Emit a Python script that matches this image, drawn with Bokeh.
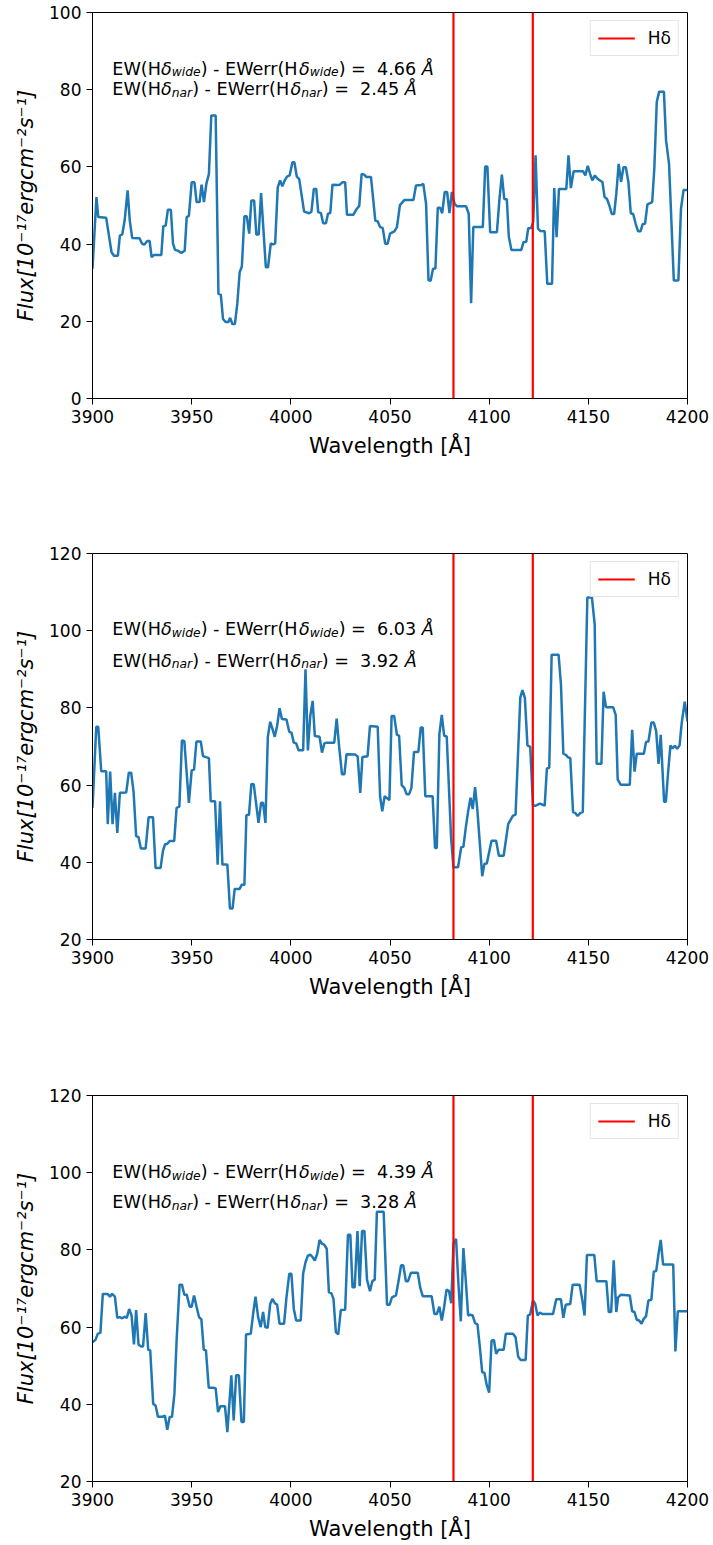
from bokeh.plotting import figure
from bokeh.models import Range1d, FixedTicker, ColumnDataSource, Legend, LegendItem
from bokeh.layouts import column
from bokeh.embed import file_html
from bokeh.resources import INLINE
from bokeh.core.properties import value

# ---------------- data ----------------
wave1 = [3900.0, 3902.0, 3902.9, 3906.9, 3909.6, 3910.8, 3912.8, 3913.8, 3915.0, 3916.2, 3917.7, 3918.8,
         3920.0, 3923.7, 3925.0, 3926.2, 3927.6, 3928.8, 3929.8, 3931.0, 3934.7, 3935.7, 3936.9, 3938.0,
         3939.5, 3940.6, 3941.6, 3943.0, 3944.8, 3946.5, 3947.5, 3948.6, 3950.0, 3951.4, 3952.5, 3954.0,
         3955.0, 3956.2, 3957.4, 3958.7, 3959.9, 3962.1, 3963.5, 3964.7, 3965.8, 3967.2, 3968.5, 3969.4,
         3970.5, 3971.8, 3973.0, 3974.2, 3975.3, 3976.6, 3977.8, 3979.0, 3980.1, 3981.5, 3982.6, 3983.8,
         3985.0, 3987.4, 3988.5, 3989.9, 3991.0, 3992.1, 3993.4, 3994.6, 3995.7, 3996.9, 3998.1, 3999.4,
         4000.8, 4001.8, 4003.0, 4004.2, 4006.7, 4009.2, 4010.4, 4011.6, 4012.8, 4013.8, 4015.2, 4016.3,
         4017.7, 4018.7, 4019.9, 4021.0, 4023.5, 4024.7, 4026.0, 4027.4, 4028.3, 4031.5, 4033.2, 4034.5,
         4035.7, 4037.0, 4038.0, 4040.4, 4042.6, 4043.8, 4045.0, 4046.3, 4047.6, 4048.8, 4050.0, 4052.2,
         4053.5, 4055.0, 4057.2, 4061.8, 4063.1, 4065.7, 4066.8, 4068.2, 4069.4, 4070.5, 4071.7, 4072.9,
         4074.1, 4075.3, 4076.3, 4077.6, 4078.8, 4080.0, 4081.2, 4082.5, 4083.7, 4088.4, 4089.7, 4090.9,
         4092.0, 4096.8, 4098.0, 4099.1, 4100.5, 4103.9, 4105.2, 4106.4, 4107.6, 4108.9, 4109.9, 4111.2,
         4116.2, 4117.3, 4118.7, 4119.7, 4121.2, 4122.2, 4123.4, 4124.6, 4125.8, 4128.0, 4129.3, 4131.7,
         4132.8, 4134.0, 4135.2, 4138.9, 4140.0, 4141.2, 4142.6, 4147.3, 4148.5, 4149.7, 4150.9, 4152.0,
         4153.3, 4154.5, 4155.8, 4157.1, 4158.2, 4159.4, 4160.6, 4161.8, 4163.0, 4164.1, 4165.3, 4166.5,
         4167.7, 4168.9, 4170.2, 4171.4, 4172.6, 4173.9, 4175.1, 4176.3, 4177.4, 4178.6, 4179.8, 4182.2,
         4183.3, 4184.5, 4185.7, 4188.1, 4189.2, 4190.7, 4193.1, 4195.4, 4196.7, 4198.0, 4200.0]
flux1 = [33.6, 52.2, 47.0, 46.8, 37.9, 37.0, 37.0, 42.2, 42.5, 46.1, 53.9, 46.1,
         41.6, 41.5, 40.1, 39.9, 40.8, 40.8, 36.6, 37.2, 37.2, 44.6, 44.8, 48.9,
         48.9, 40.1, 38.5, 38.3, 37.7, 38.3, 47.0, 47.3, 56.0, 56.0, 50.9, 50.9,
         55.4, 50.9, 55.6, 58.2, 73.3, 73.3, 27.1, 26.9, 20.6, 19.8, 19.8, 20.9,
         19.3, 19.3, 24.5, 32.7, 34.2, 47.2, 47.2, 42.7, 51.3, 51.3, 42.5, 42.5,
         53.2, 34.0, 34.0, 40.2, 39.9, 40.2, 54.7, 56.5, 55.0, 56.5, 57.5, 57.8,
         61.2, 61.2, 57.5, 56.9, 48.4, 48.0, 48.4, 54.3, 54.3, 48.3, 48.0, 45.4,
         45.4, 47.8, 48.1, 55.4, 55.3, 55.4, 56.0, 56.0, 47.6, 47.6, 49.1, 49.9,
         58.2, 58.0, 57.4, 57.4, 46.1, 45.9, 44.4, 44.2, 40.1, 40.1, 42.7, 43.3,
         44.4, 50.1, 51.4, 51.4, 55.2, 55.3, 55.6, 50.4, 30.6, 30.5, 33.6, 33.7,
         49.4, 49.4, 48.0, 53.5, 53.5, 48.0, 53.5, 50.5, 49.8, 49.8, 47.8, 24.7,
         44.4, 44.4, 60.1, 60.1, 43.1, 43.1, 51.7, 58.0, 51.7, 51.6, 42.0, 38.5,
         38.5, 40.5, 40.6, 44.1, 44.2, 45.7, 63.0, 44.0, 43.4, 43.3, 29.7, 29.7,
         54.5, 41.8, 54.3, 54.3, 63.0, 54.5, 58.9, 58.9, 57.8, 60.3, 58.2, 56.5,
         57.8, 57.0, 56.5, 56.1, 52.2, 51.7, 50.0, 47.8, 47.8, 53.0, 60.8, 56.1,
         59.9, 59.9, 56.1, 48.0, 47.8, 45.2, 43.3, 43.3, 45.2, 45.3, 50.3, 50.9,
         59.9, 76.8, 79.5, 79.5, 66.8, 60.8, 30.6, 30.6, 49.1, 54.0, 54.0]

wave2 = [3900.0, 3901.9, 3902.9, 3904.4, 3906.9, 3907.7, 3908.9, 3910.1, 3911.3, 3912.5, 3913.8, 3917.0,
         3918.3, 3919.5, 3920.7, 3922.0, 3923.2, 3924.4, 3926.8, 3928.3, 3930.5, 3931.8, 3934.3, 3935.5,
         3936.5, 3937.7, 3938.9, 3941.2, 3942.4, 3943.8, 3945.1, 3946.3, 3948.6, 3950.0, 3951.2, 3952.4,
         3954.6, 3955.7, 3958.7, 3959.6, 3961.8, 3963.1, 3964.3, 3965.5, 3968.0, 3969.3, 3970.6, 3971.7,
         3974.2, 3975.3, 3976.6, 3977.6, 3978.9, 3980.1, 3981.3, 3983.7, 3985.0, 3986.0, 3987.2, 3988.4,
         3989.6, 3990.7, 3991.9, 3993.1, 3994.3, 3995.5, 3997.8, 3999.2, 4000.3, 4001.5, 4002.7, 4003.9,
         4006.2, 4007.4, 4008.6, 4009.8, 4011.0, 4012.1, 4014.5, 4015.7, 4016.9, 4018.1, 4021.9, 4023.1,
         4024.4, 4025.8, 4027.0, 4028.1, 4032.5, 4033.7, 4035.0, 4036.1, 4038.7, 4039.9, 4043.8, 4045.0,
         4046.1, 4047.3, 4049.7, 4050.8, 4052.1, 4053.5, 4054.6, 4055.9, 4057.2, 4058.4, 4059.6, 4060.8,
         4062.1, 4064.3, 4065.5, 4066.5, 4067.8, 4071.5, 4072.7, 4073.6, 4074.9, 4076.1, 4077.3, 4078.6,
         4080.8, 4082.0, 4084.3, 4085.9, 4087.0, 4088.2, 4089.4, 4090.6, 4091.7, 4092.9, 4094.1, 4096.5,
         4097.6, 4098.8, 4101.2, 4103.5, 4104.9, 4107.3, 4109.6, 4112.0, 4113.3, 4115.7, 4116.8, 4118.0,
         4119.3, 4120.7, 4122.1, 4123.2, 4125.6, 4128.0, 4129.1, 4130.3, 4131.5, 4135.0, 4136.2, 4137.4,
         4138.6, 4139.7, 4140.9, 4142.3, 4143.4, 4144.6, 4146.0, 4147.2, 4149.5, 4151.8, 4153.2, 4154.2,
         4156.6, 4157.7, 4158.9, 4162.5, 4163.8, 4164.8, 4166.3, 4170.9, 4172.1, 4173.3, 4174.4, 4178.0,
         4179.1, 4180.3, 4181.8, 4183.0, 4184.2, 4185.4, 4186.5, 4188.2, 4189.1, 4190.2, 4191.4, 4192.4,
         4193.6, 4194.8, 4196.0, 4197.1, 4198.6, 4200.0]
flux2 = [54.1, 75.1, 75.1, 63.6, 63.6, 49.9, 63.5, 49.9, 58.0, 47.6, 58.0, 58.1,
         63.2, 63.2, 58.3, 46.8, 46.5, 43.6, 43.6, 51.7, 51.7, 38.5, 38.5, 42.9,
         44.6, 44.8, 45.5, 45.5, 54.1, 54.4, 71.6, 71.4, 55.4, 63.8, 64.0, 71.3,
         71.3, 67.5, 67.0, 55.8, 55.8, 39.4, 55.8, 39.4, 39.4, 28.0, 28.0, 33.1,
         33.1, 34.2, 34.2, 52.2, 52.3, 60.3, 60.2, 50.2, 55.4, 55.4, 50.2, 72.5,
         76.4, 74.6, 72.5, 75.4, 79.9, 77.1, 77.0, 73.8, 73.6, 71.0, 70.8, 69.0,
         69.0, 90.0, 69.0, 77.9, 81.8, 72.7, 72.5, 68.4, 70.8, 71.0, 71.0, 77.2,
         69.7, 62.8, 62.8, 68.0, 67.9, 67.4, 58.0, 67.3, 67.5, 75.3, 75.1, 57.1,
         53.2, 57.1, 56.1, 77.9, 77.9, 73.0, 72.8, 60.0, 59.3, 57.6, 57.6, 59.3,
         68.6, 68.6, 74.9, 74.9, 57.1, 57.1, 43.7, 43.7, 73.2, 78.2, 72.8, 72.6,
         46.3, 38.7, 38.7, 43.9, 44.0, 48.9, 53.2, 56.7, 53.8, 59.5, 53.2, 36.4,
         39.6, 39.7, 45.6, 45.6, 41.7, 41.7, 49.9, 52.1, 52.3, 82.7, 84.6, 82.6,
         70.3, 69.9, 54.8, 54.6, 55.2, 54.7, 64.3, 64.5, 93.8, 93.8, 86.0, 68.1,
         67.9, 67.2, 67.0, 53.0, 52.8, 52.0, 52.8, 53.0, 108.6, 108.6, 101.7, 65.5,
         65.5, 84.2, 80.2, 80.2, 78.2, 61.5, 60.1, 60.1, 74.3, 63.5, 68.1, 68.1,
         71.2, 71.3, 76.2, 76.2, 74.0, 65.5, 73.0, 55.7, 55.7, 63.2, 70.3, 69.5,
         70.2, 69.4, 70.3, 76.2, 81.6, 76.5]

wave3 = [3900.0, 3901.5, 3902.7, 3904.0, 3905.2, 3907.6, 3908.8, 3909.9, 3911.3, 3912.5, 3913.6, 3915.0,
         3916.2, 3917.3, 3918.5, 3919.7, 3920.9, 3922.0, 3923.2, 3924.4, 3925.5, 3926.8, 3928.1, 3929.1,
         3930.6, 3931.8, 3933.0, 3935.4, 3936.5, 3937.7, 3938.9, 3940.1, 3941.3, 3942.4, 3943.9, 3945.1,
         3946.3, 3947.5, 3949.0, 3950.0, 3951.2, 3952.5, 3953.7, 3954.9, 3956.1, 3957.2, 3958.6, 3961.0,
         3962.1, 3963.3, 3964.5, 3966.8, 3968.0, 3970.0, 3971.2, 3972.4, 3973.8, 3975.1, 3976.3, 3977.4,
         3979.8, 3981.1, 3982.2, 3983.5, 3984.8, 3986.0, 3987.1, 3988.3, 3989.6, 3990.7, 3991.9, 3993.1,
         3994.3, 3996.6, 3997.8, 3999.2, 4000.3, 4001.5, 4002.7, 4005.0, 4006.2, 4007.4, 4008.6, 4009.8,
         4011.0, 4012.1, 4013.3, 4014.5, 4015.7, 4016.9, 4018.1, 4019.2, 4020.4, 4021.5, 4022.7, 4023.9,
         4025.2, 4027.4, 4028.8, 4030.0, 4031.1, 4032.2, 4033.6, 4034.7, 4035.9, 4037.1, 4038.4, 4039.9,
         4041.1, 4042.3, 4043.4, 4046.8, 4048.5, 4049.8, 4051.0, 4053.0, 4054.2, 4055.6, 4056.7, 4058.0,
         4059.1, 4060.6, 4064.0, 4065.2, 4066.5, 4071.0, 4072.4, 4073.6, 4074.9, 4076.1, 4077.3, 4078.5,
         4079.7, 4080.9, 4082.0, 4083.3, 4084.5, 4085.7, 4087.0, 4088.2, 4089.4, 4090.5, 4091.7, 4092.9,
         4094.1, 4095.3, 4096.5, 4097.6, 4098.8, 4100.0, 4101.2, 4102.4, 4103.5, 4104.7, 4107.3, 4108.4,
         4112.0, 4113.3, 4114.6, 4115.8, 4118.4, 4119.5, 4120.7, 4122.1, 4123.2, 4124.4, 4125.6, 4126.8,
         4132.2, 4133.8, 4136.2, 4137.4, 4138.6, 4140.9, 4142.1, 4145.6, 4147.0, 4148.1, 4149.3, 4153.0,
         4154.2, 4159.1, 4160.3, 4161.5, 4162.8, 4164.1, 4165.0, 4166.5, 4170.9, 4172.1, 4173.3, 4174.4,
         4175.6, 4176.8, 4178.0, 4179.1, 4180.3, 4181.8, 4183.0, 4184.2, 4185.4, 4186.5, 4187.7, 4192.8,
         4193.9, 4195.1, 4200.0]
flux3 = [56.1, 56.7, 58.3, 58.5, 68.6, 68.6, 67.9, 68.6, 67.9, 62.4, 62.6, 62.3,
         62.7, 62.4, 64.7, 63.0, 55.5, 64.4, 55.5, 55.0, 55.0, 63.6, 54.1, 54.0,
         40.1, 39.7, 36.8, 36.8, 37.1, 33.4, 36.7, 36.8, 42.7, 56.5, 71.0, 71.0,
         68.4, 68.4, 65.3, 65.3, 68.2, 65.2, 62.6, 62.0, 54.1, 54.0, 44.3, 44.3,
         44.1, 38.0, 39.5, 39.5, 32.8, 47.5, 35.8, 47.5, 47.5, 35.4, 35.4, 58.1,
         58.3, 63.9, 67.9, 62.6, 60.0, 63.9, 60.0, 59.8, 66.0, 67.3, 66.2, 65.8,
         60.9, 60.9, 67.7, 73.8, 73.8, 64.7, 61.7, 61.7, 73.8, 76.8, 78.5, 78.8,
         78.1, 77.2, 79.0, 82.6, 81.6, 81.3, 80.3, 69.0, 68.8, 67.3, 58.7, 58.1,
         64.4, 64.5, 83.9, 83.9, 70.3, 70.3, 84.9, 70.6, 84.9, 84.9, 72.3, 69.3,
         71.9, 72.3, 89.9, 89.9, 65.8, 65.8, 67.7, 68.2, 71.6, 76.0, 76.0, 71.9,
         71.9, 74.1, 74.1, 70.3, 68.0, 68.0, 63.4, 63.4, 65.3, 61.7, 65.2, 69.7,
         69.4, 66.2, 81.6, 82.9, 71.2, 61.5, 80.5, 72.1, 63.0, 63.2, 63.0, 61.0,
         60.7, 54.8, 48.3, 48.2, 44.9, 43.0, 56.5, 56.7, 53.1, 54.1, 54.1, 58.3,
         58.3, 57.4, 52.4, 51.5, 51.5, 63.0, 63.3, 66.9, 66.0, 63.0, 63.8, 63.4,
         63.4, 67.2, 67.2, 62.4, 65.8, 66.0, 71.0, 71.0, 66.9, 63.0, 78.7, 78.7,
         71.9, 71.9, 63.9, 63.9, 77.3, 63.9, 67.7, 68.4, 68.2, 64.1, 63.9, 61.9,
         61.7, 60.9, 62.2, 62.8, 66.9, 67.1, 74.4, 74.5, 79.0, 82.6, 76.2, 76.2,
         53.7, 64.1, 64.1]

hdelta_lines = [4082.0, 4122.0]
x_limits = (3900, 4200)
x_ticks = [3900, 3950, 4000, 4050, 4100, 4150, 4200]
y_limits = [(0, 100), (20, 120), (20, 120)]
y_ticks = [[0, 20, 40, 60, 80, 100], [20, 40, 60, 80, 100, 120], [20, 40, 60, 80, 100, 120]]
ew_wide = ["4.66", "6.03", "4.39"]
ew_nar = ["2.45", "3.92", "3.28"]
text_x = 3910
text_y = [(85.4, 80.1), (100.4, 92.2), (100.2, 92.4)]
legend_label = "Hδ"
x_label = "Wavelength [Å]"
y_label = "Flux[10⁻¹⁷ergcm⁻²s⁻¹]"

# ---------------- styling ----------------
FONT = "DejaVu Sans"
BLUE = "#1f77b4"
FS = 17.6           # annotation font size (px)
SUB = 0.7           # subscript scale
NB = "\u00a0"       # non-collapsing space
EM = {' ': 0.318, NB: 0.318, '(': 0.390, ')': 0.390, '-': 0.361, '=': 0.838, '.': 0.318,
      'E': 0.632, 'W': 0.989, 'H': 0.752, 'e': 0.615, 'r': 0.411, 'w': 0.818,
      'i': 0.278, 'd': 0.635, 'n': 0.634, 'a': 0.613, 'Å': 0.684, 'δ': 0.612}
for _c in "0123456789":
    EM[_c] = 0.636


def text_width(s, size):
    return sum(EM.get(c, 0.6) for c in s) * size


def pieces_for(sub, val, ybase, px_per_unit):
    parts = [("EW(H", "normal", 1.0), ("δ", "italic", 1.0), (sub, "italic", SUB),
             (")" + NB + "-" + NB + "EWerr(H", "normal", 1.0), ("δ", "italic", 1.0), (sub, "italic", SUB),
             (")" + NB + "=" + NB + NB + val + NB, "normal", 1.0), ("Å", "italic", 1.0)]
    rows = []
    off = 0.0
    for txt, style, scale in parts:
        size = FS * scale
        y = ybase - (3.6 / px_per_unit if scale < 1 else 0.0)
        rows.append((txt, style, "%.1fpx" % size, off, y))
        off += text_width(txt, size)
    return rows


heights = [541, 542, 462]
bottoms = [143, 144, 64]
figs = []
for k in range(3):
    ylo, yhi = y_limits[k]
    p = figure(width=713, height=heights[k], output_backend="svg", toolbar_location=None,
               x_range=Range1d(*x_limits), y_range=Range1d(ylo, yhi),
               min_border_left=92, min_border_right=26, min_border_top=12,
               min_border_bottom=bottoms[k])
    p.background_fill_color = "white"
    p.border_fill_color = "white"
    p.outline_line_color = "black"
    p.outline_line_width = 1
    p.xgrid.visible = False
    p.ygrid.visible = False

    wave, flux = [(wave1, flux1), (wave2, flux2), (wave3, flux3)][k]
    p.line(wave, flux, line_color=BLUE, line_width=2.5)

    seg = p.segment(x0=hdelta_lines, y0=[ylo] * len(hdelta_lines),
                    x1=hdelta_lines, y1=[yhi] * len(hdelta_lines),
                    line_color="red", line_width=2.2)

    legend = Legend(items=[LegendItem(label=legend_label, renderers=[seg])],
                    location="top_right", margin=8, padding=7, spacing=0,
                    glyph_width=37, glyph_height=16, label_height=16,
                    label_standoff=13, label_text_font=FONT, label_text_font_size="17px",
                    label_text_color="black",
                    border_line_color="#cccccc", border_line_width=1,
                    background_fill_color="white", background_fill_alpha=0.8)
    p.add_layout(legend)

    # annotation text
    px_per_unit = 386.0 / (yhi - ylo)
    rows = pieces_for("wide", ew_wide[k], text_y[k][0], px_per_unit) + \
        pieces_for("nar", ew_nar[k], text_y[k][1], px_per_unit)
    src = ColumnDataSource(dict(
        x=[text_x] * len(rows), y=[r[4] for r in rows], text=[r[0] for r in rows],
        style=[r[1] for r in rows], size=[r[2] for r in rows], off=[r[3] for r in rows]))
    p.text(x="x", y="y", text="text", source=src, x_offset="off",
           text_font=value(FONT), text_font_style="style", text_font_size="size",
           text_color="black", text_baseline="alphabetic", text_align="left")

    # axes
    p.xaxis.ticker = FixedTicker(ticks=x_ticks)
    p.yaxis.ticker = FixedTicker(ticks=y_ticks[k])
    for ax in (p.xaxis[0], p.yaxis[0]):
        ax.axis_line_color = "black"
        ax.major_tick_line_color = "black"
        ax.major_tick_out = 6
        ax.major_tick_in = 0
        ax.minor_tick_line_color = None
        ax.major_label_text_font = FONT
        ax.major_label_text_font_size = "17px"
        ax.major_label_text_color = "black"
        ax.major_label_standoff = 5
        ax.axis_label_text_font = FONT
        ax.axis_label_text_font_size = "21px"
        ax.axis_label_text_color = "black"
    p.xaxis.axis_label = x_label
    p.xaxis.axis_label_text_font_style = "normal"
    p.xaxis.axis_label_standoff = 8
    p.yaxis.axis_label = y_label
    p.yaxis.axis_label_text_font_style = "italic"
    p.yaxis.axis_label_standoff = 8
    figs.append(p)

layout = column(*figs, spacing=0)
open("out.html", "w").write(file_html(layout, INLINE))
